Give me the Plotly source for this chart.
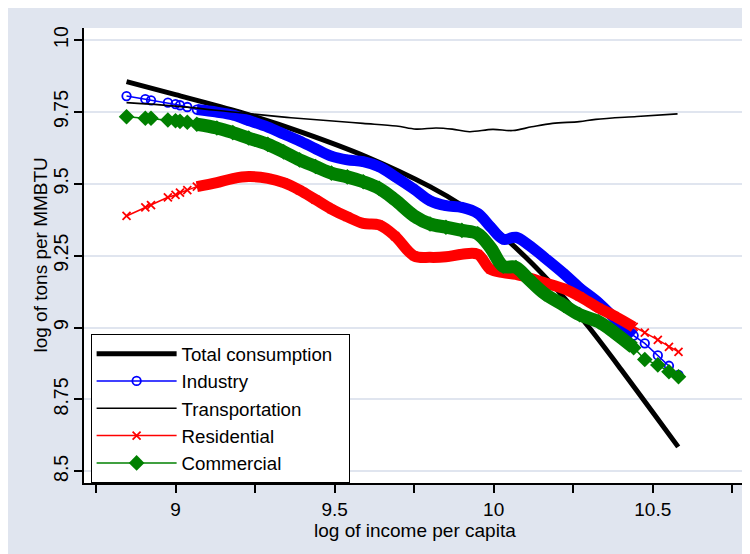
import plotly.graph_objects as go

# ---- data ----
log_income = [8.846, 8.905, 8.923, 8.976, 9.000, 9.014, 9.037, 9.067,
              9.13, 9.18, 9.23, 9.29, 9.34, 9.39, 9.44, 9.49, 9.54, 9.59,
              9.64, 9.69, 9.75, 9.80, 9.85, 9.90, 9.95, 9.99, 10.03, 10.07,
              10.11, 10.16, 10.22, 10.27, 10.33, 10.38, 10.44,
              10.475, 10.516, 10.551, 10.581]

industry = [9.805, 9.794, 9.790, 9.782, 9.777, 9.773, 9.767, 9.758,
            9.749, 9.739, 9.720, 9.697, 9.673, 9.649, 9.622, 9.596, 9.583, 9.577,
            9.559, 9.525, 9.481, 9.441, 9.424, 9.418, 9.397, 9.350, 9.307, 9.314,
            9.287, 9.243, 9.188, 9.138, 9.086, 9.032, 8.972,
            8.945, 8.903, 8.867, 8.835]

residential = [9.388, 9.418, 9.426, 9.453, 9.461, 9.469, 9.478, 9.490,
               9.504, 9.518, 9.525, 9.519, 9.504, 9.478, 9.445, 9.412, 9.385, 9.362,
               9.357, 9.318, 9.249, 9.244, 9.246, 9.255, 9.255, 9.202, 9.191, 9.185,
               9.173, 9.156, 9.135, 9.108, 9.068, 9.040, 9.002,
               8.982, 8.957, 8.933, 8.915]

commercial = [9.733, 9.728, 9.728, 9.722, 9.719, 9.717, 9.714, 9.707,
              9.694, 9.678, 9.659, 9.637, 9.611, 9.583, 9.560, 9.537, 9.524, 9.507,
              9.484, 9.444, 9.388, 9.360, 9.349, 9.338, 9.326, 9.278, 9.213, 9.209,
              9.168, 9.118, 9.078, 9.045, 9.020, 8.982, 8.930,
              8.889, 8.870, 8.846, 8.829]

total_x = [8.846, 9.0, 9.2, 9.4, 9.6, 9.8, 9.9, 10.0, 10.1, 10.2,
           10.3, 10.4, 10.5, 10.58]
total = [9.855, 9.810, 9.750, 9.678, 9.594, 9.490, 9.425, 9.345, 9.245, 9.130,
         9.000, 8.855, 8.705, 8.585]

transport_x = [8.846, 9.0, 9.202, 9.35, 9.484, 9.589, 9.694, 9.756, 9.819, 9.87,
               9.924, 9.997, 10.06, 10.12, 10.185, 10.269, 10.321, 10.45, 10.578]
transport = [9.782, 9.770, 9.747, 9.731, 9.719, 9.710, 9.701, 9.690, 9.694, 9.690,
             9.681, 9.689, 9.685, 9.698, 9.710, 9.716, 9.724, 9.734, 9.743]

x_ticks = [8.75, 9, 9.25, 9.5, 9.75, 10, 10.25, 10.5, 10.75]
x_ticktext = ["", "9", "", "9.5", "", "10", "", "10.5", ""]
y_ticks = [8.5, 8.75, 9, 9.25, 9.5, 9.75, 10]
y_ticktext = ["8.5", "8.75", "9", "9.25", "9.5", "9.75", "10"]

# dense part of the sample (where markers merge into a band)
dense = [i for i, v in enumerate(log_income) if 9.06 <= v <= 10.45]
band_x = [log_income[i] for i in dense]

BG = "rgb(224,229,239)"
FONT = "Liberation Sans, Arial, sans-serif"

fig = go.Figure()

fig.add_trace(go.Scatter(x=total_x, y=total, mode="lines", name="Total consumption\u00a0\u00a0",
                         line=dict(color="black", width=5, shape="spline", smoothing=0.8)))

fig.add_trace(go.Scatter(x=log_income, y=industry, mode="lines+markers", name="Industry",
                         line=dict(color="#0000ff", width=1.5),
                         marker=dict(symbol="circle-open", size=8.5, color="#0000ff",
                                     line=dict(width=1.8, color="#0000ff"))))
fig.add_trace(go.Scatter(x=band_x, y=[industry[i] for i in dense], mode="lines",
                         showlegend=False, hoverinfo="skip",
                         line=dict(color="#0000ff", width=11, shape="spline")))

fig.add_trace(go.Scatter(x=transport_x, y=transport, mode="lines", name="Transportation",
                         line=dict(color="black", width=1.6, shape="spline")))

fig.add_trace(go.Scatter(x=log_income, y=residential, mode="lines+markers", name="Residential",
                         line=dict(color="#ff0000", width=1.5),
                         marker=dict(symbol="x-thin-open", size=8, color="#ff0000",
                                     line=dict(width=1.8, color="#ff0000"))))
fig.add_trace(go.Scatter(x=band_x, y=[residential[i] for i in dense], mode="lines",
                         showlegend=False, hoverinfo="skip",
                         line=dict(color="#ff0000", width=11, shape="spline")))

fig.add_trace(go.Scatter(x=log_income, y=commercial, mode="lines+markers", name="Commercial",
                         line=dict(color="#008000", width=1.5),
                         marker=dict(symbol="diamond", size=12, color="#008000")))
fig.add_trace(go.Scatter(x=band_x, y=[commercial[i] for i in dense], mode="lines",
                         showlegend=False, hoverinfo="skip",
                         line=dict(color="#008000", width=13, shape="spline")))

fig.update_layout(
    width=742, height=546,
    margin=dict(l=76, r=4.5, t=20, b=71),
    paper_bgcolor=BG, plot_bgcolor="white",
    font=dict(family=FONT, size=19, color="black"),
    showlegend=True,
    legend=dict(x=0.010, y=0.3275, xanchor="left", yanchor="top",
                bgcolor="white", bordercolor="black", borderwidth=1,
                font=dict(family=FONT, size=18.7, color="black"),
                itemwidth=80, tracegroupgap=0),
    annotations=[
        dict(text="log of income per capita", xref="paper", yref="paper",
             x=0.5, y=-0.1033, xanchor="center", yanchor="middle", showarrow=False,
             font=dict(family=FONT, size=19, color="black")),
        dict(text="log of tons per MMBTU", xref="paper", yref="paper",
             x=-0.0665, y=0.5, xanchor="center", yanchor="middle", showarrow=False,
             textangle=-90, font=dict(family=FONT, size=19, color="black")),
    ],
)

fig.update_xaxes(range=[8.7123, 10.790], tickmode="array", tickvals=x_ticks, ticktext=x_ticktext,
                 ticks="outside", ticklen=8, tickwidth=1.5, tickcolor="black",
                 showline=True, linecolor="black", linewidth=1.5, showgrid=False, zeroline=False,
                 tickfont=dict(size=19))
fig.update_yaxes(range=[8.4593, 10.0417], tickmode="array", tickvals=y_ticks, ticktext=y_ticktext,
                 tickangle=-90, ticklabelstandoff=-2,
                 ticks="outside", ticklen=8, tickwidth=1.5, tickcolor="black",
                 showline=True, linecolor="black", linewidth=1.5, showgrid=True,
                 gridcolor=BG, gridwidth=2, zeroline=False,
                 tickfont=dict(size=19.5))

fig.write_html("out.html")
